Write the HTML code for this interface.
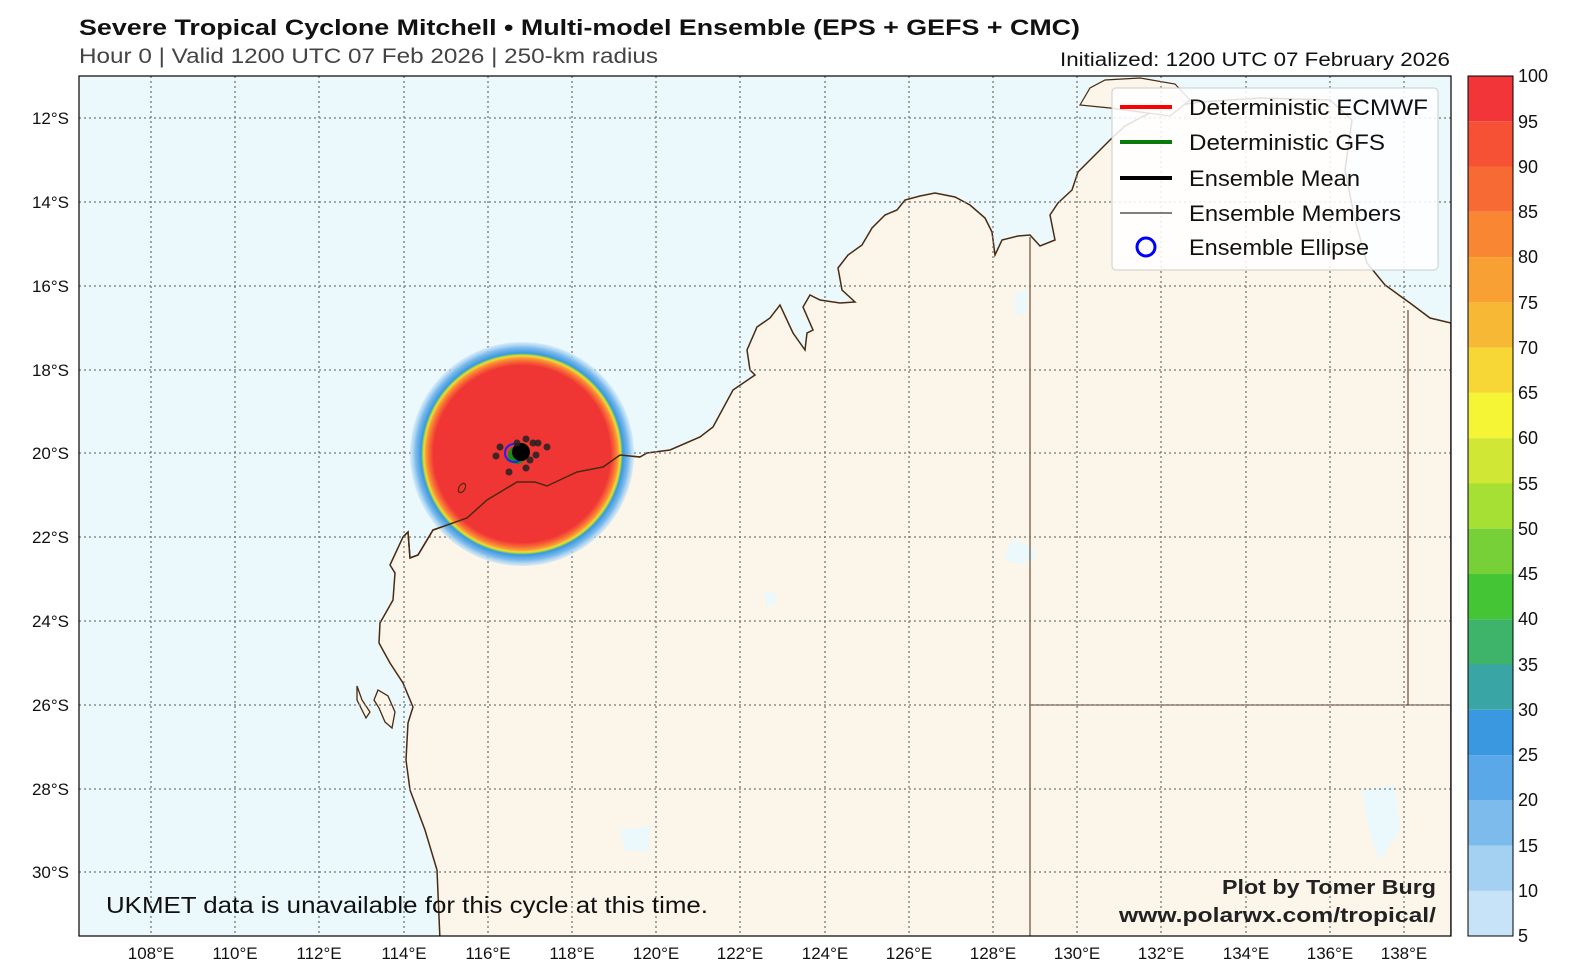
<!DOCTYPE html>
<html><head><meta charset="utf-8"><style>
body{margin:0;background:#fff;}
svg{display:block;font-family:"Liberation Sans",sans-serif;}
</style></head><body>
<svg width="1575" height="978" viewBox="0 0 1575 978" xmlns="http://www.w3.org/2000/svg">
<defs>
<clipPath id="mapclip"><rect x="79" y="76" width="1372" height="860"/></clipPath>
<radialGradient id="cyc" cx="0.5" cy="0.5" r="0.5">
<stop offset="0" stop-color="#f03535"/>
<stop offset="0.79" stop-color="#f03535"/>
<stop offset="0.83" stop-color="#f86a35"/>
<stop offset="0.86" stop-color="#f9a035"/>
<stop offset="0.875" stop-color="#f5d835"/>
<stop offset="0.885" stop-color="#a8dc35"/>
<stop offset="0.9" stop-color="#3a98e0"/>
<stop offset="0.95" stop-color="#7dbbec"/>
<stop offset="1" stop-color="#c6e3f7" stop-opacity="0.6"/>
</radialGradient>
</defs>
<text x="79" y="35" font-size="22" font-weight="bold" fill="#111" textLength="1001" lengthAdjust="spacingAndGlyphs">Severe Tropical Cyclone Mitchell • Multi-model Ensemble (EPS + GEFS + CMC)</text>
<text x="79" y="63" font-size="21" fill="#444" textLength="579" lengthAdjust="spacingAndGlyphs">Hour 0 | Valid 1200 UTC 07 Feb 2026 | 250-km radius</text>
<text x="1060" y="66" font-size="19" fill="#111" textLength="390" lengthAdjust="spacingAndGlyphs">Initialized: 1200 UTC 07 February 2026</text>

<g clip-path="url(#mapclip)">
<rect x="79" y="76" width="1372" height="860" fill="#ebf9fd"/>
<path d="M440,940 L437,870 L425,830 L410,790 L406,760 L408,723 L413,707 L403,683 L390,663 L379,643 L380,623 L393,600 L395,573 L390,565 L403,537 L408,532 L410,558 L418,555 L433,530 L467,518 L487,500 L517,482 L535,482 L547,486 L577,472 L603,467 L620,455 L640,457 L647,453 L670,450 L700,437 L713,427 L733,390 L755,375 L750,370 L747,350 L757,327 L770,318 L780,305 L793,333 L805,350 L807,333 L813,330 L803,307 L810,295 L820,300 L840,303 L855,302 L842,290 L838,268 L848,255 L862,245 L872,228 L885,215 L897,210 L905,200 L920,196 L935,193 L955,197 L970,205 L985,218 L992,232 L995,255 L1002,240 L1018,236 L1030,235 L1040,246 L1055,240 L1050,215 L1058,203 L1072,190 L1078,172 L1090,160 L1100,150 L1112,138 L1125,126 L1140,118 L1160,108 L1200,102 L1260,98 L1330,100 L1352,120 L1345,170 L1355,220 L1367,263 L1385,285 L1410,303 L1430,318 L1451,323 L1451,940 Z" fill="#fbf5ea" stroke="#4a2a10" stroke-width="1.5"/>
<path d="M1080,105 L1090,88 L1105,80 L1140,78 L1175,84 L1190,100 L1170,116 L1140,112 L1110,108 Z" fill="#fbf5ea" stroke="#4a2a10" stroke-width="1.2"/>
<path d="M357,686 L362,700 L370,712 L366,718 L357,700 Z M378,690 L388,696 L395,712 L392,728 L385,722 L379,708 L374,700 Z" fill="#fbf5ea" stroke="#4a2a10" stroke-width="1.3"/>
<path d="M1012,540 L1030,545 L1038,556 L1022,564 L1004,560 Z" fill="#ebf9fd"/>
<path d="M1015,292 L1028,290 L1026,312 L1015,316 Z" fill="#ebf9fd"/>
<path d="M765,590 L775,592 L776,604 L766,606 Z" fill="#ebf9fd"/>
<path d="M620,830 L650,826 L648,852 L625,850 Z" fill="#ebf9fd"/>
<path d="M1362,790 L1395,785 L1400,830 L1380,860 L1370,835 Z" fill="#ebf9fd"/>
<path d="M1030,237 L1030,936 M1030,705 L1451,705 M1408,310 L1408,705" stroke="#4a2a10" stroke-width="1" fill="none"/>
<g stroke="#777" stroke-width="1.3" stroke-dasharray="2,3" fill="none">
<path d="M151,76V936 M235,76V936 M319,76V936 M404,76V936 M488,76V936 M572,76V936 M656,76V936 M740,76V936 M825,76V936 M909,76V936 M993,76V936 M1077,76V936 M1161,76V936 M1246,76V936 M1330,76V936 M1404,76V936"/>
<path d="M79,118H1451 M79,202H1451 M79,286H1451 M79,370H1451 M79,453H1451 M79,537H1451 M79,621H1451 M79,705H1451 M79,789H1451 M79,872H1451"/>
</g>
<circle cx="522" cy="454" r="112" fill="url(#cyc)"/>
<path d="M403,537 L408,532 L410,558 L418,555 L433,530 L467,518 L487,500 L517,482 L535,482 L547,486 L577,472 L603,467 L620,455 L640,457" stroke="#4a2a10" stroke-width="1.5" fill="none"/>
<ellipse cx="462" cy="488" rx="3" ry="5" fill="none" stroke="#4a2a10" stroke-width="1.2" transform="rotate(30 462 488)"/>
<circle cx="517" cy="455" r="9" fill="#1a8a1a"/>
<circle cx="514" cy="453" r="9" fill="none" stroke="#2222ee" stroke-width="2"/>
<circle cx="521" cy="452" r="9" fill="#000"/>
<g fill="#222" fill-opacity="0.85">
<circle cx="500" cy="447" r="3.5"/><circle cx="496" cy="456" r="3.5"/><circle cx="526" cy="439" r="3.5"/>
<circle cx="533" cy="443" r="3.5"/><circle cx="538" cy="443" r="3.5"/><circle cx="547" cy="447" r="3.5"/>
<circle cx="509" cy="472" r="3.5"/><circle cx="526" cy="468" r="3.5"/><circle cx="530" cy="460" r="3.5"/>
<circle cx="536" cy="455" r="3.5"/><circle cx="517" cy="443" r="3.5"/>
</g>
</g>
<rect x="79" y="76" width="1372" height="860" fill="none" stroke="#000" stroke-width="1.2"/>

<g font-size="17" fill="#111" text-anchor="end">
<text x="69" y="124">12°S</text><text x="69" y="208">14°S</text><text x="69" y="292">16°S</text>
<text x="69" y="376">18°S</text><text x="69" y="459">20°S</text><text x="69" y="543">22°S</text>
<text x="69" y="627">24°S</text><text x="69" y="711">26°S</text><text x="69" y="795">28°S</text>
<text x="69" y="878">30°S</text>
</g>
<g font-size="17" fill="#111" text-anchor="middle">
<text x="151" y="959">108°E</text><text x="235" y="959">110°E</text><text x="319" y="959">112°E</text>
<text x="404" y="959">114°E</text><text x="488" y="959">116°E</text><text x="572" y="959">118°E</text>
<text x="656" y="959">120°E</text><text x="740" y="959">122°E</text><text x="825" y="959">124°E</text>
<text x="909" y="959">126°E</text><text x="993" y="959">128°E</text><text x="1077" y="959">130°E</text>
<text x="1161" y="959">132°E</text><text x="1246" y="959">134°E</text><text x="1330" y="959">136°E</text>
<text x="1404" y="959">138°E</text>
</g>

<rect x="1112" y="88" width="326" height="182" rx="4" fill="#fff" fill-opacity="0.85" stroke="#ccc"/>
<line x1="1120" y1="107" x2="1172" y2="107" stroke="#f00" stroke-width="4"/>
<line x1="1120" y1="142" x2="1172" y2="142" stroke="#0a7a0a" stroke-width="4"/>
<line x1="1120" y1="178" x2="1172" y2="178" stroke="#000" stroke-width="4"/>
<line x1="1120" y1="213" x2="1172" y2="213" stroke="#000" stroke-width="1"/>
<circle cx="1146" cy="247" r="9" fill="none" stroke="#00f" stroke-width="3"/>
<g font-size="22" fill="#111" lengthAdjust="spacingAndGlyphs">
<text x="1189" y="115" textLength="239" lengthAdjust="spacingAndGlyphs">Deterministic ECMWF</text>
<text x="1189" y="150" textLength="196" lengthAdjust="spacingAndGlyphs">Deterministic GFS</text>
<text x="1189" y="186" textLength="171" lengthAdjust="spacingAndGlyphs">Ensemble Mean</text>
<text x="1189" y="221" textLength="212" lengthAdjust="spacingAndGlyphs">Ensemble Members</text>
<text x="1189" y="255" textLength="180" lengthAdjust="spacingAndGlyphs">Ensemble Ellipse</text>
</g>

<text x="106" y="913" font-size="23" fill="#111" textLength="602" lengthAdjust="spacingAndGlyphs">UKMET data is unavailable for this cycle at this time.</text>
<text x="1222" y="894" font-size="20" font-weight="bold" fill="#222" textLength="214" lengthAdjust="spacingAndGlyphs">Plot by Tomer Burg</text>
<text x="1119" y="922" font-size="20" font-weight="bold" fill="#222" textLength="317" lengthAdjust="spacingAndGlyphs">www.polarwx.com/tropical/</text>

<g>
<rect x="1468" y="76.0" width="45" height="45.3" fill="#f23538"/>
<rect x="1468" y="121.3" width="45" height="45.3" fill="#f75135"/>
<rect x="1468" y="166.5" width="45" height="45.3" fill="#f86a33"/>
<rect x="1468" y="211.8" width="45" height="45.3" fill="#f98633"/>
<rect x="1468" y="257.1" width="45" height="45.3" fill="#f9a035"/>
<rect x="1468" y="302.4" width="45" height="45.3" fill="#f7b835"/>
<rect x="1468" y="347.6" width="45" height="45.3" fill="#f6d735"/>
<rect x="1468" y="392.9" width="45" height="45.3" fill="#f5f535"/>
<rect x="1468" y="438.2" width="45" height="45.3" fill="#d0e835"/>
<rect x="1468" y="483.4" width="45" height="45.3" fill="#a6e035"/>
<rect x="1468" y="528.7" width="45" height="45.3" fill="#78d038"/>
<rect x="1468" y="574.0" width="45" height="45.3" fill="#44c535"/>
<rect x="1468" y="619.3" width="45" height="45.3" fill="#3db46a"/>
<rect x="1468" y="664.5" width="45" height="45.3" fill="#3aa5a5"/>
<rect x="1468" y="709.8" width="45" height="45.3" fill="#3a98e0"/>
<rect x="1468" y="755.1" width="45" height="45.3" fill="#5aa8e8"/>
<rect x="1468" y="800.3" width="45" height="45.3" fill="#7dbbec"/>
<rect x="1468" y="845.6" width="45" height="45.3" fill="#a4d0f2"/>
<rect x="1468" y="890.9" width="45" height="45.1" fill="#c6e3f7"/>
<rect x="1468" y="76" width="45" height="860" fill="none" stroke="#000" stroke-width="1"/>
</g>
<g font-size="18" fill="#111">
<text x="1518" y="82">100</text><text x="1518" y="128">95</text><text x="1518" y="173">90</text>
<text x="1518" y="218">85</text><text x="1518" y="263">80</text><text x="1518" y="309">75</text>
<text x="1518" y="354">70</text><text x="1518" y="399">65</text><text x="1518" y="444">60</text>
<text x="1518" y="490">55</text><text x="1518" y="535">50</text><text x="1518" y="580">45</text>
<text x="1518" y="625">40</text><text x="1518" y="671">35</text><text x="1518" y="716">30</text>
<text x="1518" y="761">25</text><text x="1518" y="806">20</text><text x="1518" y="852">15</text>
<text x="1518" y="897">10</text><text x="1518" y="942">5</text>
</g>
</svg>
</body></html>
